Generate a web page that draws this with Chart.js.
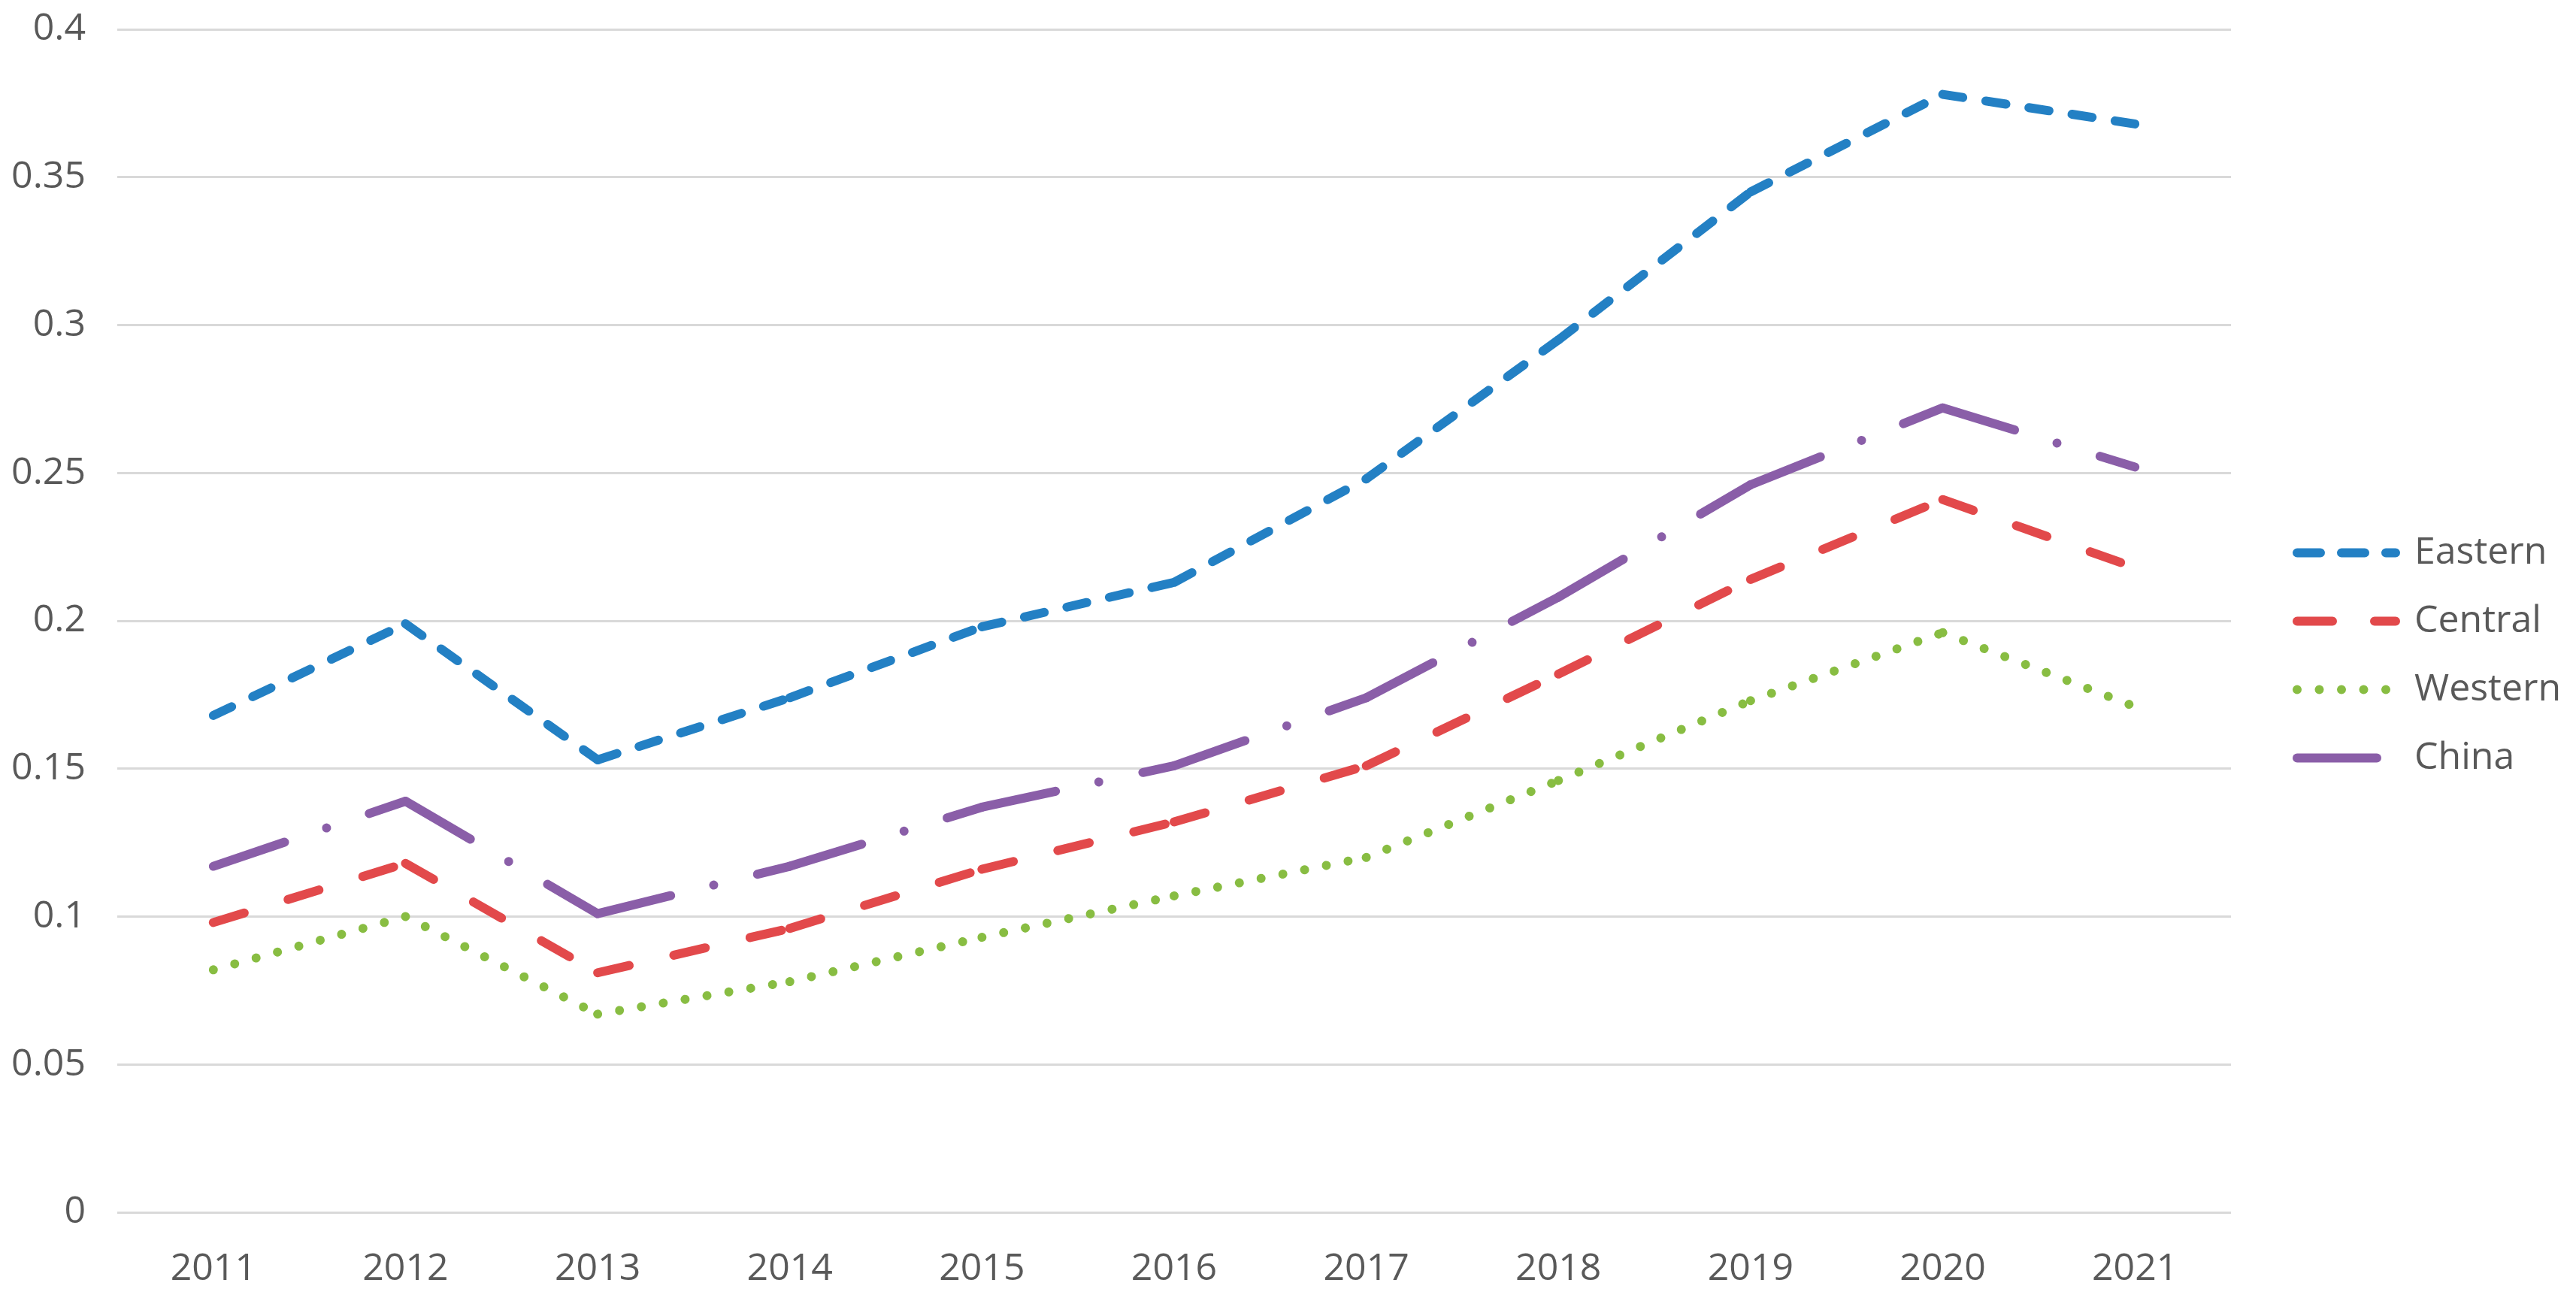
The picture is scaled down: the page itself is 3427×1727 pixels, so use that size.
<!DOCTYPE html>
<html>
<head>
<meta charset="utf-8">
<script src="https://cdn.jsdelivr.net/npm/chart.js@4/dist/chart.umd.min.js"></script>
<style>
  html, body { margin: 0; padding: 0; background: #ffffff; }
  #wrap { width: 3427px; height: 1727px; position: relative; }
</style>
</head>
<body>
<div id="wrap"><canvas id="c"></canvas></div>
<script>
// ---- data ----
const years = ['2011','2012','2013','2014','2015','2016','2017','2018','2019','2020','2021'];
const eastern = [0.168, 0.199, 0.153, 0.174, 0.198, 0.213, 0.248, 0.295, 0.345, 0.378, 0.368];
const central = [0.098, 0.118, 0.081, 0.096, 0.116, 0.132, 0.151, 0.182, 0.214, 0.241, 0.218];
const western = [0.082, 0.100, 0.067, 0.078, 0.093, 0.107, 0.120, 0.146, 0.173, 0.196, 0.171];
const china   = [0.117, 0.139, 0.101, 0.117, 0.137, 0.151, 0.174, 0.208, 0.246, 0.272, 0.252];
const seriesNames = ['Eastern', 'Central', 'Western', 'China'];
const yTickLabels = ['0', '0.05', '0.1', '0.15', '0.2', '0.25', '0.3', '0.35', '0.4'];

// ---- styles ----
const colors = ['#2380c4', '#e2494b', '#88bd42', '#8a5ea8'];
const LW = 12;
// dash pattern restarts at every data point (as in the source), see segment option
const plotDash = [[27, 31], [43, 61], [0.001, 29.5], [100, 59, 0.001, 60]];
const legendDash = [[31, 28], [47, 56], [0.001, 29.5], [106, 400]];

const legendPlace = {
  id: 'legendPlace',
  afterInit(chart) {
    const lg = chart.legend;
    const f = lg.fit;
    lg.fit = function () { f.call(this); this.width = 459; };
  },
  afterLayout(chart) {
    const lg = chart.legend;
    lg.left += 47;
    lg.top -= 11;
    lg.bottom -= 11;
  }
};

Chart.defaults.font.family = "'Open Sans', sans-serif";
Chart.defaults.font.size = 50;
Chart.defaults.color = '#595959';

const seriesData = [eastern, central, western, china];

new Chart(document.getElementById('c'), {
  type: 'line',
  data: {
    labels: years,
    datasets: seriesNames.map((name, i) => ({
      label: name,
      data: seriesData[i],
      borderColor: colors[i],
      backgroundColor: colors[i],
      borderWidth: LW,
      borderDash: plotDash[i],
      borderDashOffset: 0,
      borderCapStyle: 'round',
      borderJoinStyle: 'round',
      pointRadius: 0,
      pointHoverRadius: 0,
      tension: 0,
      fill: false,
      segment: {
        // a distinct (negligible) offset per segment makes Chart.js stroke each
        // segment separately, so the dash pattern restarts at each point
        borderDashOffset: (ctx) => ctx.p0DataIndex * 1e-6
      }
    }))
  },
  options: {
    responsive: true,
    maintainAspectRatio: false,
    animation: false,
    devicePixelRatio: 1,
    layout: { padding: { top: 39, bottom: 0, left: 0, right: 0 } },
    plugins: {
      tooltip: { enabled: false },
      legend: {
        position: 'right',
        align: 'center',
        labels: {
          usePointStyle: true,
          pointStyleWidth: 131,
          boxHeight: 50,
          padding: 41,
          color: '#595959',
          font: { size: 50, family: "'Open Sans', sans-serif" },
          generateLabels(chart) {
            const items = Chart.defaults.plugins.legend.labels.generateLabels(chart);
            items.forEach((it, i) => {
              it.pointStyle = 'line';
              it.lineDash = legendDash[i];
              it.lineDashOffset = 0;
              it.lineCap = 'round';
              it.lineWidth = LW;
              it.strokeStyle = colors[i];
              it.fillStyle = colors[i];
            });
            return items;
          }
        }
      }
    },
    scales: {
      x: {
        type: 'category',
        offset: true,
        grid: { display: false, drawTicks: false },
        border: { display: false },
        ticks: { padding: 46, color: '#595959', maxRotation: 0, autoSkip: false },
        afterFit(scale) { scale.height = 114; }
      },
      y: {
        min: 0,
        max: 0.4,
        grid: { color: '#d9d9d9', lineWidth: 3, drawTicks: false },
        border: { display: false },
        ticks: {
          stepSize: 0.05,
          padding: 42,
          color: '#595959',
          callback: (v) => yTickLabels[Math.round(v / 0.05)]
        },
        afterFit(scale) {
          scale.width = 156;
          scale.paddingTop = 10;
          scale.paddingBottom = 10;
        }
      }
    }
  },
  plugins: [legendPlace]
});
</script>
</body>
</html>
